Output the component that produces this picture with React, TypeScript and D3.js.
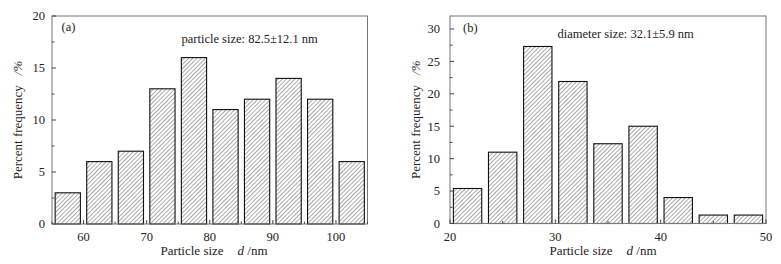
import React from "react";
import * as d3 from "d3";

const binsA = [55, 60, 65, 70, 75, 80, 85, 90, 95, 100];
const valuesA = [3, 6, 7, 13, 16, 11, 12, 14, 12, 6];
const xTicksA = [60, 70, 80, 90, 100];
const yTicksA = [0, 5, 10, 15, 20];

const binsB = [20, 23.333, 26.667, 30, 33.333, 36.667, 40, 43.333, 46.667];
const valuesB = [5.4, 11, 27.3, 21.9, 12.3, 15, 4.0, 1.3, 1.3];
const xTicksB = [20, 30, 40, 50];
const yTicksB = [0, 5, 10, 15, 20, 25, 30];

const FONT = "'Liberation Serif', 'Times New Roman', serif";

type PanelProps = {
  left: number; right: number; top: number; bottom: number;
  xDomain: [number, number]; yDomain: [number, number];
  bins: number[]; values: number[]; binW: number; inset: number;
  xTicks: number[]; xMinor: number[]; yTicks: number[]; yMinor: number[];
  label: string; labelX: number; labelY: number;
  note: string; noteX: number; noteY: number;
  yTitleX: number; xTitleX: number; yLabelGap: number;
};

function Panel(p: PanelProps) {
  const x = d3.scaleLinear().domain(p.xDomain).range([p.left, p.right]);
  const y = d3.scaleLinear().domain(p.yDomain).range([p.bottom, p.top]);
  const cy = (p.top + p.bottom) / 2;
  return (
    <g>
      {p.bins.map((b, i) => (
        <rect key={i}
          x={x(b + p.inset)}
          y={y(p.values[i])}
          width={x(b + p.binW - p.inset) - x(b + p.inset)}
          height={y(0) - y(p.values[i])}
          fill="url(#hatch)" stroke="#111" strokeWidth={1.1} />
      ))}
      <rect x={p.left} y={p.top} width={p.right - p.left} height={p.bottom - p.top}
        fill="none" stroke="#777" strokeWidth={1} />
      {p.yTicks.map((t) => (
        <g key={"y" + t}>
          <line x1={p.left} x2={p.left + 4} y1={y(t)} y2={y(t)} stroke="#444" />
          <text x={p.left - p.yLabelGap} y={y(t)} dy="0.35em" textAnchor="end"
            fontSize={12.5} fontFamily={FONT} fill="#222">{t}</text>
        </g>
      ))}
      {p.yMinor.map((t) => (
        <line key={"ym" + t} x1={p.left} x2={p.left + 2.5} y1={y(t)} y2={y(t)} stroke="#444" />
      ))}
      {p.xTicks.map((t) => (
        <g key={"x" + t}>
          <line x1={x(t)} x2={x(t)} y1={p.bottom} y2={p.bottom - 4} stroke="#444" />
          <text x={x(t)} y={241} textAnchor="middle"
            fontSize={12.5} fontFamily={FONT} fill="#222">{t}</text>
        </g>
      ))}
      {p.xMinor.map((t) => (
        <line key={"xm" + t} x1={x(t)} x2={x(t)} y1={p.bottom} y2={p.bottom - 2.5} stroke="#444" />
      ))}
      <text x={p.labelX} y={p.labelY} fontSize={12.5} fontFamily={FONT} fill="#222">{p.label}</text>
      <text x={p.noteX} y={p.noteY} fontSize={12.5} fontFamily={FONT} fill="#222">{p.note}</text>
      <text transform={`translate(${p.yTitleX},${cy}) rotate(-90)`} textAnchor="middle"
        fontSize={13} fontFamily={FONT} fill="#222">
        Percent frequency<tspan dx="10" fontStyle="italic">/%</tspan>
      </text>
      <text x={p.xTitleX} y={255} textAnchor="middle" fontSize={13} fontFamily={FONT} fill="#222">
        Particle size<tspan dx="14" fontStyle="italic">d</tspan><tspan> /nm</tspan>
      </text>
    </g>
  );
}

export default function App() {
  return (
    <svg width={781} height={264} style={{ position: "absolute", left: 0, top: 0, background: "#fff" }}>
      <defs>
        <pattern id="hatch" patternUnits="userSpaceOnUse" width={3} height={3}
          patternTransform="rotate(45)">
          <rect width={3} height={3} fill="#fff" />
          <line x1={0} y1={0} x2={0} y2={3} stroke="#555" strokeWidth={1} />
        </pattern>
      </defs>
      <rect width={781} height={264} fill="#fff" />
      <Panel left={52} right={367.5} top={16} bottom={224}
        xDomain={[55, 105]} yDomain={[0, 20]}
        bins={binsA} values={valuesA} binW={5} inset={0.5}
        xTicks={xTicksA} xMinor={[55, 65, 75, 85, 95, 105]}
        yTicks={yTicksA} yMinor={[2.5, 7.5, 12.5, 17.5]}
        label="(a)" labelX={61.5} labelY={31}
        note="particle size: 82.5±12.1 nm" noteX={181.5} noteY={43}
        yTitleX={22} xTitleX={214} yLabelGap={7} />
      <Panel left={450} right={766} top={16} bottom={223.5}
        xDomain={[20, 50]} yDomain={[0, 32]}
        bins={binsB} values={valuesB} binW={10 / 3} inset={0.32}
        xTicks={xTicksB} xMinor={[25, 35, 45]}
        yTicks={yTicksB} yMinor={[2.5, 7.5, 12.5, 17.5, 22.5, 27.5]}
        label="(b)" labelX={463} labelY={32}
        note="diameter size: 32.1±5.9 nm" noteX={557.5} noteY={38}
        yTitleX={420} xTitleX={603} yLabelGap={10} />
    </svg>
  );
}
